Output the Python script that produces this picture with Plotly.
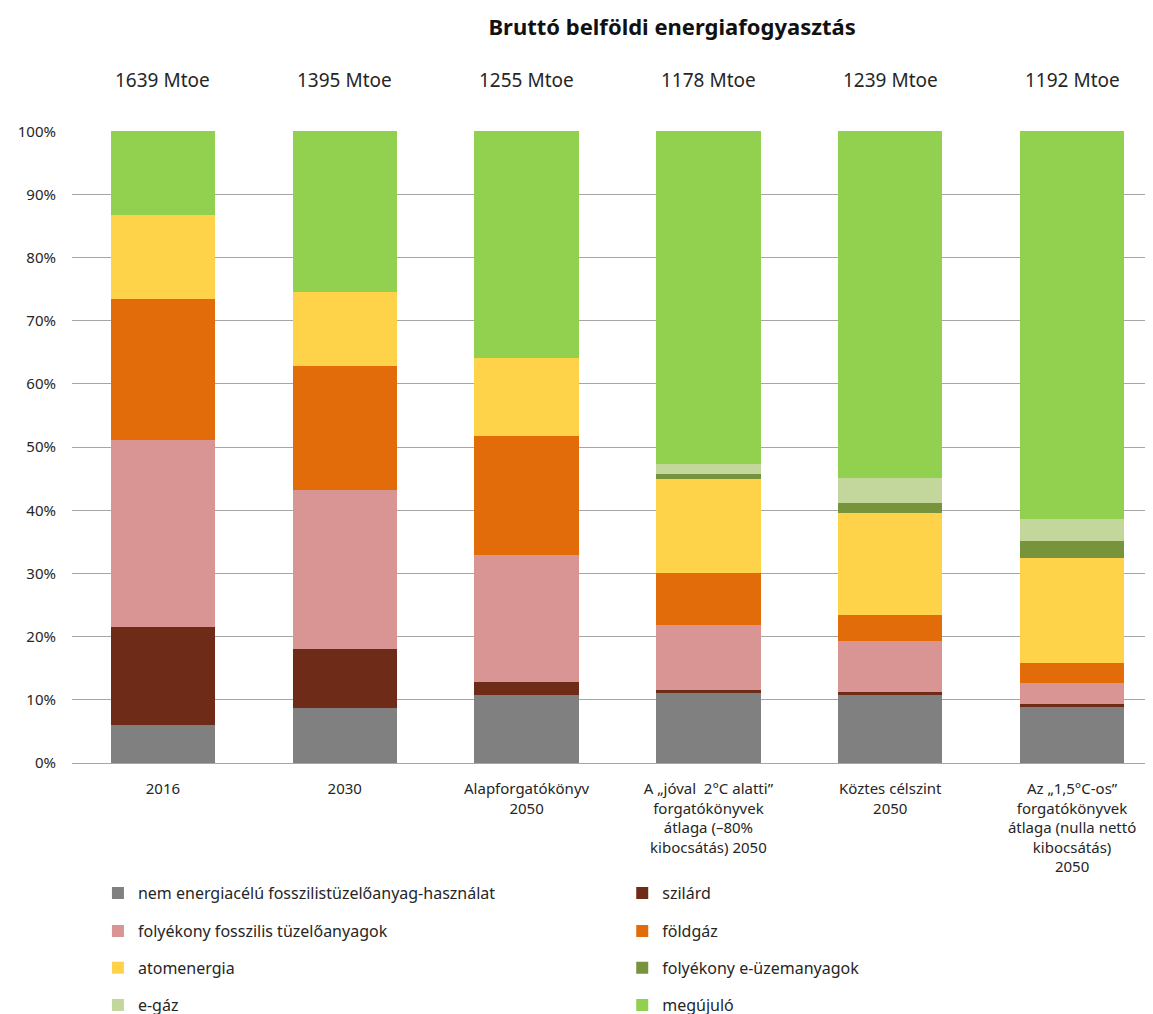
import plotly.graph_objects as go

categories = [
    "2016",
    "2030",
    "Alapforgatókönyv<br>2050",
    "A „jóval  2°C alatti”<br>forgatókönyvek<br>átlaga (–80%<br>kibocsátás) 2050",
    "Köztes célszint<br>2050",
    "Az „1,5°C-os”<br>forgatókönyvek<br>átlaga (nulla nettó<br>kibocsátás)<br>2050",
]
totals = ["1639 Mtoe", "1395 Mtoe", "1255 Mtoe", "1178 Mtoe", "1239 Mtoe", "1192 Mtoe"]

series_names = [
    "nem energiacélú fosszilistüzelőanyag-használat",
    "szilárd",
    "folyékony fosszilis tüzelőanyagok",
    "földgáz",
    "atomenergia",
    "folyékony e-üzemanyagok",
    "e-gáz",
    "megújuló",
]
nem_energia = [6.0, 8.7, 10.8, 11.2, 10.8, 9.0]
szilard = [15.5, 9.3, 2.0, 0.3, 0.4, 0.3]
folyekony = [29.7, 25.2, 20.1, 10.3, 8.1, 3.3]
foldgaz = [22.3, 19.7, 18.9, 8.2, 4.1, 3.2]
atom = [13.3, 11.6, 12.3, 14.9, 16.1, 16.7]
e_uzemanyag = [0.0, 0.0, 0.0, 0.9, 1.6, 2.6]
e_gaz = [0.0, 0.0, 0.0, 1.6, 4.0, 3.5]
megujulo = [13.2, 25.5, 35.9, 52.6, 54.9, 61.4]

values = [nem_energia, szilard, folyekony, foldgaz, atom, e_uzemanyag, e_gaz, megujulo]
colors = ["#808080", "#6E2C18", "#D99594", "#E36C0A", "#FED34A", "#77933C", "#C3D69B", "#92D050"]

# legend slots: (x paper, y paper) in row-wise two-column order
legend_pos = [
    (0.024, -0.206), (0.509, -0.206),
    (0.024, -0.266), (0.509, -0.266),
    (0.024, -0.324), (0.509, -0.324),
    (0.024, -0.383), (0.509, -0.383),
]

FONT = "Noto Sans"
TXT = "#262626"

fig = go.Figure()
layout_legends = {}
for i, (name, vals, col) in enumerate(zip(series_names, values, colors)):
    lname = "legend" if i == 0 else f"legend{i+1}"
    fig.add_trace(go.Bar(
        x=categories, y=vals, name=name,
        marker=dict(color=col, line=dict(width=0)),
        legend=lname, showlegend=True,
    ))
    lx, ly = legend_pos[i]
    layout_legends[lname] = dict(
        x=lx, y=ly, xanchor="left", yanchor="middle",
        bgcolor="rgba(0,0,0,0)", borderwidth=0,
        font=dict(family=FONT, size=16, color=TXT),
        itemwidth=30, visible=True,
    )

for idx, t in enumerate(totals):
    fig.add_annotation(
        x=idx, y=1.081, xref="x", yref="paper", text=t, showarrow=False,
        yanchor="middle",
        font=dict(family=FONT, size=19, color=TXT),
    )

fig.update_layout(
    width=1153, height=1014,
    margin=dict(l=64, r=8, t=123, b=259, autoexpand=False),
    paper_bgcolor="white", plot_bgcolor="white",
    barmode="stack", bargap=0.427,
    showlegend=True,
    title=dict(
        text="<b>Bruttó belföldi energiafogyasztás</b>",
        x=0.576, xref="container", xanchor="center",
        y=1 - 19 / 1014, yref="container", yanchor="middle",
        font=dict(family=FONT, size=22, color="#111111"),
    ),
    font=dict(family=FONT, size=15, color=TXT),
    **layout_legends,
)

fig.update_xaxes(
    type="category", range=[-0.5, 5.445],
    showgrid=False, showline=False, ticks="",
    tickfont=dict(family=FONT, size=15, color=TXT),
    tickangle=0, ticklabelstandoff=15,
)
fig.update_yaxes(
    range=[0, 100.05], dtick=10, ticksuffix="%",
    showgrid=True, gridcolor="#A6A6A6", gridwidth=1,
    zeroline=True, zerolinecolor="#A6A6A6", zerolinewidth=1,
    showline=False, ticks="", ticklabelstandoff=15,
    tickfont=dict(family=FONT, size=15, color=TXT),
)

fig.write_html("out.html")
